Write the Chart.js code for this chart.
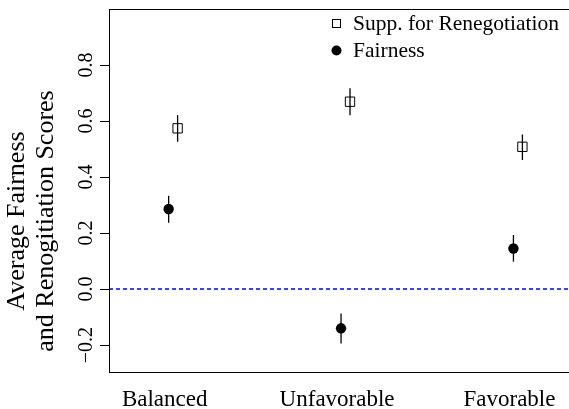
<!DOCTYPE html>
<html>
<head>
<meta charset="utf-8">
<script src="https://cdn.jsdelivr.net/npm/chart.js@4.4.1/dist/chart.umd.min.js"></script>
<style>
  body { margin: 0; overflow: hidden; background: #fff; }
</style>
</head>
<body>
<canvas id="chart" width="580" height="409"></canvas>
<script>
// values
var categories = ['Balanced', 'Unfavorable', 'Favorable'];
var fairMean = [0.286, -0.140, 0.145];
var fairLow  = [0.237, -0.194, 0.098];
var fairHigh = [0.333, -0.087, 0.193];
var suppMean = [0.574, 0.669, 0.508];
var suppLow  = [0.526, 0.621, 0.461];
var suppHigh = [0.621, 0.717, 0.552];
var yTicks = [-0.2, 0, 0.2, 0.4, 0.6, 0.8];
var legendLabels = ['Supp. for Renegotiation', 'Fairness'];
var yTitle = ['Average Fairness', 'and Renogitiation Scores'];

var SERIF = '"Liberation Serif", "Times New Roman", serif';

function points(means, shift) {
    return means.map(function (v, i) { return { x: i + 1 + shift, y: v }; });
}

var decor = {
    id: 'decor',
    beforeDatasetsDraw: function (chart) {
        var ctx = chart.ctx, a = chart.chartArea;
        var xs = chart.scales.x, ys = chart.scales.y;
        ctx.save();
        // dashed reference line at zero
        var y0 = Math.round(ys.getPixelForValue(0));
        ctx.strokeStyle = '#0000ff';
        ctx.lineWidth = 1.5;
        ctx.setLineDash([4, 3]);
        ctx.beginPath();
        ctx.moveTo(a.left, y0);
        ctx.lineTo(a.right, y0);
        ctx.stroke();
        ctx.setLineDash([]);
        // error bars
        ctx.strokeStyle = '#000';
        ctx.lineWidth = 1.3;
        chart.data.datasets.forEach(function (ds) {
            ds.data.forEach(function (p, i) {
                var px = xs.getPixelForValue(p.x);
                ctx.beginPath();
                ctx.moveTo(px, ys.getPixelForValue(ds.low[i]));
                ctx.lineTo(px, ys.getPixelForValue(ds.high[i]));
                ctx.stroke();
            });
        });
        ctx.restore();
    },
    afterDraw: function (chart) {
        var ctx = chart.ctx, a = chart.chartArea;
        var xs = chart.scales.x, ys = chart.scales.y;
        ctx.save();
        // frame
        ctx.strokeStyle = '#000';
        ctx.lineWidth = 1;
        ctx.strokeRect(a.left + 0.5, a.top + 0.5, a.right - a.left, a.bottom - a.top);

        ctx.fillStyle = '#000';
        // rotated y tick labels
        ctx.font = '20px ' + SERIF;
        ctx.textAlign = 'center';
        ctx.textBaseline = 'alphabetic';
        yTicks.forEach(function (v) {
            var lbl = v.toFixed(1).replace('-', '\u2212');
            ctx.save();
            ctx.translate(92, ys.getPixelForValue(v));
            ctx.rotate(-Math.PI / 2);
            ctx.fillText(lbl, 0, 0);
            ctx.restore();
        });

        // y title, two lines
        ctx.font = '26px ' + SERIF;
        ctx.save();
        ctx.translate(24, 221);
        ctx.rotate(-Math.PI / 2);
        ctx.fillText(yTitle[0], 0, 0);
        ctx.fillText(yTitle[1], 0, 29);
        ctx.restore();

        // category labels
        ctx.font = '23px ' + SERIF;
        categories.forEach(function (c, i) {
            ctx.fillText(c, xs.getPixelForValue(i + 1), 406);
        });

        // legend
        ctx.font = '21.5px ' + SERIF;
        ctx.textAlign = 'left';
        ctx.textBaseline = 'middle';
        ctx.strokeRect(332.5, 19.5, 8, 8);
        ctx.fillText(legendLabels[0], 353, 24);
        ctx.beginPath();
        ctx.arc(336.5, 50.5, 5, 0, Math.PI * 2);
        ctx.fill();
        ctx.fillText(legendLabels[1], 353, 51);
        ctx.restore();
    }
};

new Chart(document.getElementById('chart'), {
    type: 'scatter',
    data: {
        datasets: [{
            label: legendLabels[0],
            data: points(suppMean, 0.075),
            low: suppLow,
            high: suppHigh,
            pointStyle: 'rect',
            pointRadius: 6.6,
            backgroundColor: 'rgba(0,0,0,0)',
            borderColor: '#000',
            borderWidth: 1
        }, {
            label: legendLabels[1],
            data: points(fairMean, 0.023),
            low: fairLow,
            high: fairHigh,
            pointStyle: 'circle',
            pointRadius: 5.2,
            backgroundColor: '#000',
            borderColor: '#000',
            borderWidth: 0
        }]
    },
    options: {
        responsive: false,
        animation: false,
        devicePixelRatio: 1,
        layout: { padding: { top: 9, right: 5, left: 0, bottom: 0 } },
        plugins: { legend: { display: false }, tooltip: { enabled: false } },
        scales: {
            x: {
                type: 'linear',
                min: 0.677,
                max: 3.365,
                afterFit: function (s) { s.height = 37; s.paddingLeft = 0; s.paddingRight = 0; },
                ticks: { display: false },
                grid: { display: false },
                border: { display: false }
            },
            y: {
                min: -0.296,
                max: 1.0,
                afterFit: function (s) { s.width = 109; s.paddingTop = 0; s.paddingBottom = 0; },
                afterBuildTicks: function (s) {
                    s.ticks = yTicks.map(function (v) { return { value: v }; });
                },
                ticks: { color: 'rgba(0,0,0,0)', font: { size: 1 }, padding: 0 },
                grid: { drawOnChartArea: false, drawTicks: true, tickLength: 9, color: '#000' },
                border: { display: false }
            }
        }
    },
    plugins: [decor]
});
</script>
</body>
</html>
